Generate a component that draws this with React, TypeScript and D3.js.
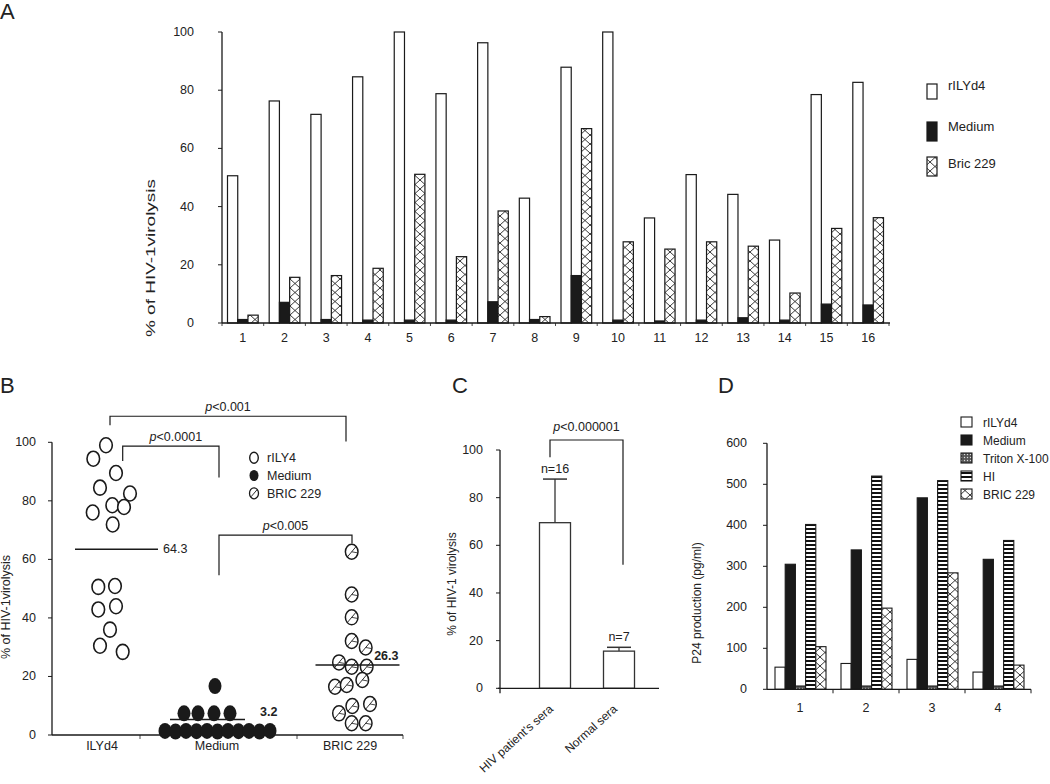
import React from 'react';
import * as d3 from 'd3';

const FONT = "'Liberation Sans', Arial, Helvetica, sans-serif";
const INK = '#1a1a1a';

// ---------- Panel A data ----------
const aDonors = ['1', '2', '3', '4', '5', '6', '7', '8', '9', '10', '11', '12', '13', '14', '15', '16'];
const aSeriesNames = ['rILYd4', 'Medium', 'Bric 229'];
const aRILYd4 = [50.6, 76.3, 71.7, 84.6, 100, 78.8, 96.3, 42.9, 87.9, 100, 36.1, 51.0, 44.2, 28.5, 78.5, 82.7];
const aMedium = [1.2, 7.1, 1.2, 1.0, 1.0, 1.0, 7.3, 1.2, 16.3, 1.0, 0.7, 1.0, 1.8, 1.0, 6.5, 6.2];
const aBric229 = [2.7, 15.7, 16.3, 18.8, 51.1, 22.8, 38.5, 2.2, 66.8, 27.9, 25.4, 27.9, 26.4, 10.3, 32.5, 36.2];
const aYTicks = [0, 20, 40, 60, 80, 100];

// ---------- Panel B data ----------
const bGroups = ['ILYd4', 'Medium', 'BRIC 229'];
const bIlyd4Values = [99, 94.4, 89.5, 84.5, 82.5, 78.5, 77.9, 76, 71.9, 50.6, 50.9, 42.9, 44, 36, 30.5, 28.4];
const bIlyd4Jitter = [4, -8.7, 14, -2, 28, 10.3, 22, -9.3, 10.7, -3.7, 13, -3.7, 14, 8, -2, 20.7];
const bMediumValues = [16.7, 7.4, 7.4, 7.4, 7.4, 1.4, 1.2, 1.4, 1.3, 1.4, 1.2, 1.4, 1.3, 1.4, 1.2, 1.4];
const bMediumJitter = [-2, -33, -19, -3, 13, -52, -41.5, -31, -20.5, -10, 0.5, 11, 21.5, 32, 42.5, 53];
const bBricValues = [62.6, 48, 40.2, 32.1, 29.9, 24.8, 23.3, 23.3, 18.8, 16.5, 17.1, 10.6, 9.9, 7.4, 4, 4];
const bBricJitter = [1.7, 1.7, 1.7, 1.7, 15.7, -11, 1.7, 16.7, 12.3, -15, -3.3, 20, 2.3, -11, 1.7, 15.7];
const bMeanValues = [63.5, 5.3, 23.9];
const bMeanLabels = ['64.3', '3.2', '26.3'];
const bLegendNames = ['rILY4', 'Medium', 'BRIC 229'];
const bYTicks = [0, 20, 40, 60, 80, 100];
const bCompLabels = ['<0.001', '<0.0001', '<0.005'];
const bCompBarValues = [108.9, 98.7, 68.3];
const bCompLeftFoot = [105.8, 93.6, 54.6];
const bCompRightFoot = [100.3, 88, 65.4];

// ---------- Panel C data ----------
const cGroups = ["HIV patient's sera", 'Normal sera'];
const cMeans = [69.5, 15.6];
const cUpperErr = [18.3, 1.6];
const cN = ['n=16', 'n=7'];
const cYTicks = [0, 20, 40, 60, 80, 100];
const cPLabel = '<0.000001';
const cBracket = { bar: 104.2, leftFoot: 97, rightFoot: 51.8 };

// ---------- Panel D data ----------
const dExperiments = ['1', '2', '3', '4'];
const dSeriesNames = ['rILYd4', 'Medium', 'Triton X-100', 'HI', 'BRIC 229'];
const dRILYd4 = [54, 63, 73, 42];
const dMedium = [305, 340, 467, 317];
const dTriton = [8, 8, 8, 8];
const dHI = [402, 520, 509, 363];
const dBric229 = [104, 198, 284, 59];
const dYTicks = [0, 100, 200, 300, 400, 500, 600];

// ---------- layout (positions / styles) ----------
const L = {
  a: { x0: 222, x1: 889, y0: 323, y1: 32 },
  b: {
    x0: 52, x1: 403, y0: 735, y1: 442.3,
    centers: [102, 217, 350], ticks: [140, 297, 403],
    meanShift: [14.5, -9.5, 7.5], meanHalf: [41.5, 37.5, 42],
  },
  c: { x0: 500, x1: 659, y0: 688.3, y1: 450 },
  d: { x0: 767, x1: 1031, y0: 689.3, y1: 443.3 },
};

const textStyle: React.CSSProperties = { fontFamily: FONT, fill: '#222' };

function PText({ x, y, label, anchor = 'middle' }: { x: number; y: number; label: string; anchor?: string }) {
  return (
    <text x={x} y={y} textAnchor={anchor as any} fontSize={12.5} style={textStyle}>
      <tspan fontStyle="italic">p</tspan>
      {label}
    </text>
  );
}

function HatchDot({ cx, cy }: { cx: number; cy: number }) {
  const rx = 6.3;
  const ry = 7.5;
  return (
    <g>
      <ellipse cx={cx} cy={cy} rx={rx} ry={ry} fill="#fff" stroke={INK} strokeWidth={1.5} />
      <line x1={cx - rx * 0.7} y1={cy + ry * 0.7} x2={cx + rx * 0.7} y2={cy - ry * 0.7} stroke={INK} strokeWidth={0.9} />
      <line x1={cx} y1={cy} x2={cx + rx * 0.85} y2={cy + 1} stroke={INK} strokeWidth={0.8} />
    </g>
  );
}

export default function App() {
  // ===== Panel A =====
  const xA = d3.scaleBand<string>().domain(aDonors).range([L.a.x0, L.a.x1]);
  const xAIn = d3.scaleBand<string>().domain(aSeriesNames).range([5.5, xA.bandwidth() - 5.5]);
  const yA = d3.scaleLinear().domain([0, 100]).range([L.a.y0, L.a.y1]);
  const aValues = [aRILYd4, aMedium, aBric229];
  const aFills = ['#fff', INK, 'url(#xhatch)'];

  // ===== Panel B =====
  const xB = d3.scaleOrdinal<string, number>().domain(bGroups).range(L.b.centers);
  const yB = d3.scaleLinear().domain([0, 100]).range([L.b.y0, L.b.y1]);
  const bMeanX = bGroups.map((g, i) => xB(g) + L.b.meanShift[i]);

  // ===== Panel C =====
  const xC = d3.scalePoint<string>().domain(cGroups).range([523, 651]).padding(0.5);
  const yC = d3.scaleLinear().domain([0, 100]).range([L.c.y0, L.c.y1]);
  const cBarW = 31;

  // ===== Panel D =====
  const xD = d3.scaleBand<string>().domain(dExperiments).range([L.d.x0, L.d.x1]);
  const xDIn = d3.scaleBand<string>().domain(dSeriesNames).range([8, xD.bandwidth() - 7]);
  const yD = d3.scaleLinear().domain([0, 600]).range([L.d.y0, L.d.y1]);
  const dValues = [dRILYd4, dMedium, dTriton, dHI, dBric229];
  const dFills = ['#fff', INK, 'url(#dots)', 'url(#hstripe)', 'url(#xhatch)'];

  return (
    <svg width={1050} height={784} style={{ position: 'absolute', left: 0, top: 0, background: '#fff' }}>
      <defs>
        <pattern id="xhatch" patternUnits="userSpaceOnUse" width={10} height={9}>
          <rect width={10} height={9} fill="#fff" />
          <path d="M0,0 L10,9 M10,0 L0,9" stroke="#222" strokeWidth={0.9} />
        </pattern>
        <pattern id="hstripe" patternUnits="userSpaceOnUse" width={4} height={4}>
          <rect width={4} height={4} fill="#fff" />
          <rect width={4} height={2} fill="#111" />
        </pattern>
        <pattern id="dots" patternUnits="userSpaceOnUse" width={3} height={3}>
          <rect width={3} height={3} fill="#555" />
          <circle cx={1.5} cy={1.5} r={0.7} fill="#ddd" />
        </pattern>
      </defs>
      <rect width={1050} height={784} fill="#fff" />

      {/* Panel letters */}
      <text x={0} y={19} fontSize={22} style={textStyle}>A</text>
      <text x={0} y={393} fontSize={22} style={textStyle}>B</text>
      <text x={452} y={393} fontSize={22} style={textStyle}>C</text>
      <text x={718} y={393} fontSize={22} style={textStyle}>D</text>

      {/* ================= Panel A ================= */}
      <g>
        {aDonors.map((d, i) =>
          aSeriesNames.map((s, k) => {
            const v = aValues[k][i];
            const x = xA(d)! + xAIn(s)!;
            return (
              <rect key={d + s} x={x} y={yA(v)} width={xAIn.bandwidth()} height={yA(0) - yA(v)}
                fill={aFills[k]} stroke={INK} strokeWidth={1.2} />
            );
          })
        )}
        <line x1={L.a.x0} x2={L.a.x0} y1={yA(100)} y2={yA(0)} stroke={INK} strokeWidth={1.3} />
        <line x1={L.a.x0} x2={L.a.x1 + 1} y1={yA(0)} y2={yA(0)} stroke={INK} strokeWidth={1.3} />
        {aYTicks.map((t) => (
          <g key={t}>
            <line x1={L.a.x0 - 4} x2={L.a.x0} y1={yA(t)} y2={yA(t)} stroke={INK} strokeWidth={1} />
            <text x={194} y={yA(t) + 4} textAnchor="end" fontSize={12.5} style={textStyle}>{t}</text>
          </g>
        ))}
        {d3.range(aDonors.length + 1).map((i) => (
          <line key={i} x1={L.a.x0 + i * xA.step()} x2={L.a.x0 + i * xA.step()} y1={yA(0)} y2={yA(0) + 3}
            stroke={INK} strokeWidth={0.8} />
        ))}
        {aDonors.map((d) => (
          <text key={d} x={xA(d)! + xA.bandwidth() / 2} y={342} textAnchor="middle" fontSize={12.5} style={textStyle}>{d}</text>
        ))}
        <text transform={`translate(155,258) rotate(-90)`} textAnchor="middle" fontSize={13}
          textLength={158} lengthAdjust="spacingAndGlyphs" style={textStyle}>
          % of HIV-1virolysis
        </text>
        {aSeriesNames.map((s, k) => (
          <g key={s}>
            <rect x={927} y={[84, 122, 157][k]} width={10} height={[15, 19, 19][k]} fill={aFills[k]} stroke={INK} strokeWidth={1.2} />
            <text x={948} y={[90, 131, 168][k]} fontSize={13} style={textStyle}>{s}</text>
          </g>
        ))}
      </g>

      {/* ================= Panel B ================= */}
      <g>
        {/* axes */}
        <line x1={L.b.x0} x2={L.b.x0} y1={yB(100)} y2={yB(0)} stroke={INK} strokeWidth={1.3} />
        <line x1={L.b.x0} x2={L.b.x1} y1={yB(0)} y2={yB(0)} stroke={INK} strokeWidth={1.3} />
        {bYTicks.map((t) => (
          <g key={t}>
            <line x1={L.b.x0 - 4} x2={L.b.x0} y1={yB(t)} y2={yB(t)} stroke={INK} strokeWidth={1} />
            <text x={36} y={yB(t) + 4} textAnchor="end" fontSize={12.5} style={textStyle}>{t}</text>
          </g>
        ))}
        {L.b.ticks.map((t) => (
          <line key={t} x1={t} x2={t} y1={yB(0)} y2={yB(0) + 4} stroke={INK} strokeWidth={0.8} />
        ))}
        {bGroups.map((g) => (
          <text key={g} x={xB(g)} y={750} textAnchor="middle" fontSize={12.5} style={textStyle}>{g}</text>
        ))}
        <text transform={`translate(10,607) rotate(-90)`} textAnchor="middle" fontSize={12.5} style={textStyle}>
          % of HIV-1virolysis
        </text>

        {/* dots */}
        {bIlyd4Values.map((v, i) => (
          <ellipse key={'w' + i} cx={xB(bGroups[0]) + bIlyd4Jitter[i]} cy={yB(v)} rx={6.3} ry={7.5}
            fill="#fff" stroke={INK} strokeWidth={1.6} />
        ))}
        {bMediumValues.map((v, i) => (
          <ellipse key={'b' + i} cx={xB(bGroups[1]) + bMediumJitter[i]} cy={yB(v)} rx={6.5} ry={8} fill={INK} />
        ))}
        {bBricValues.map((v, i) => (
          <HatchDot key={'h' + i} cx={xB(bGroups[2]) + bBricJitter[i]} cy={yB(v)} />
        ))}

        {/* mean lines */}
        {bMeanValues.map((m, i) => (
          <line key={'m' + i} x1={bMeanX[i] - L.b.meanHalf[i]} x2={bMeanX[i] + L.b.meanHalf[i]} y1={yB(m)} y2={yB(m)}
            stroke={INK} strokeWidth={1.5} />
        ))}
        <text x={bMeanX[0] + L.b.meanHalf[0] + 5} y={yB(bMeanValues[0]) + 4} fontSize={12.5} style={textStyle}>{bMeanLabels[0]}</text>
        <text x={bMeanX[1] + L.b.meanHalf[1] + 15} y={yB(bMeanValues[1]) - 3} fontSize={12.5} fontWeight="bold" style={textStyle}>{bMeanLabels[1]}</text>
        <text x={bMeanX[2] + L.b.meanHalf[2] - 1} y={yB(bMeanValues[2]) - 5} textAnchor="end" fontSize={12.5} fontWeight="bold" style={textStyle}>{bMeanLabels[2]}</text>

        {/* comparisons */}
        {[
          [xB(bGroups[0]) + 8, xB(bGroups[2]) - 4],
          [xB(bGroups[0]) + 20.7, xB(bGroups[1]) + 2],
          [xB(bGroups[1]) + 2, xB(bGroups[2]) + 2],
        ].map(([xl, xr], i) => (
          <g key={'c' + i}>
            <path
              d={`M${xl},${yB(bCompLeftFoot[i])} V${yB(bCompBarValues[i])} H${xr} V${yB(bCompRightFoot[i])}`}
              fill="none" stroke={INK} strokeWidth={1.2} />
            <PText x={(xl + xr) / 2 + (i === 1 ? 5 : 0)} y={yB(bCompBarValues[i]) - 5} label={bCompLabels[i]} />
          </g>
        ))}

        {/* legend */}
        {bLegendNames.map((n, k) => {
          const cy = 457.7 + k * 17.8;
          return (
            <g key={n}>
              {k === 0 && <ellipse cx={254} cy={cy} rx={4.3} ry={5.5} fill="#fff" stroke={INK} strokeWidth={1.4} />}
              {k === 1 && <ellipse cx={254} cy={cy} rx={4.5} ry={5.5} fill={INK} />}
              {k === 2 && (
                <g>
                  <ellipse cx={254} cy={cy} rx={4.5} ry={5.5} fill="#fff" stroke={INK} strokeWidth={1.3} />
                  <line x1={251} y1={cy + 3.5} x2={257} y2={cy - 3.5} stroke={INK} strokeWidth={0.9} />
                </g>
              )}
              <text x={267} y={cy + 4.5} fontSize={12.5} style={textStyle}>{n}</text>
            </g>
          );
        })}
      </g>

      {/* ================= Panel C ================= */}
      <g>
        {cGroups.map((g, i) => {
          const cx = xC(g)!;
          return (
            <g key={g}>
              <line x1={cx} x2={cx} y1={yC(cMeans[i])} y2={yC(cMeans[i] + cUpperErr[i])} stroke="#333" strokeWidth={1.3} />
              <line x1={cx - 12} x2={cx + 12} y1={yC(cMeans[i] + cUpperErr[i])} y2={yC(cMeans[i] + cUpperErr[i])} stroke="#333" strokeWidth={1.5} />
              <rect x={cx - cBarW / 2} y={yC(cMeans[i])} width={cBarW} height={yC(0) - yC(cMeans[i])}
                fill="#fff" stroke="#333" strokeWidth={1.3} />
              <text x={cx} y={yC(cMeans[i] + cUpperErr[i]) - 6} textAnchor="middle" fontSize={12.5} style={textStyle}>{cN[i]}</text>
              <text transform={`translate(${cx - 1},710) rotate(-42)`} textAnchor="end" fontSize={12} style={textStyle}>{g}</text>
            </g>
          );
        })}
        <line x1={L.c.x0} x2={L.c.x0} y1={yC(100)} y2={yC(0) + 5} stroke={INK} strokeWidth={1.3} />
        <line x1={L.c.x0 - 2} x2={L.c.x1} y1={yC(0)} y2={yC(0)} stroke={INK} strokeWidth={1.3} />
        {cYTicks.map((t) => (
          <g key={t}>
            <line x1={L.c.x0 - 4} x2={L.c.x0} y1={yC(t)} y2={yC(t)} stroke={INK} strokeWidth={1} />
            <text x={483} y={yC(t) + 4} textAnchor="end" fontSize={12.5} style={textStyle}>{t}</text>
          </g>
        ))}
        <text transform={`translate(456,584) rotate(-90)`} textAnchor="middle" fontSize={12} style={textStyle}>
          % of HIV-1 virolysis
        </text>
        {(() => {
          const xl = xC(cGroups[0])! - 5;
          const xr = xC(cGroups[1])! + 4;
          return (
            <g>
              <path d={`M${xl},${yC(cBracket.leftFoot)} V${yC(cBracket.bar)} H${xr} V${yC(cBracket.rightFoot)}`}
                fill="none" stroke={INK} strokeWidth={1.2} />
              <PText x={(xl + xr) / 2} y={yC(cBracket.bar) - 9} label={cPLabel} />
            </g>
          );
        })()}
      </g>

      {/* ================= Panel D ================= */}
      <g>
        {dExperiments.map((e, i) =>
          dSeriesNames.map((s, k) => {
            const v = dValues[k][i];
            return (
              <rect key={e + s} x={xD(e)! + xDIn(s)!} y={yD(v)} width={xDIn.bandwidth()} height={yD(0) - yD(v)}
                fill={dFills[k]} stroke={INK} strokeWidth={1.1} />
            );
          })
        )}
        <line x1={L.d.x0} x2={L.d.x0} y1={yD(600)} y2={yD(0)} stroke={INK} strokeWidth={1.3} />
        <line x1={L.d.x0} x2={L.d.x1} y1={yD(0)} y2={yD(0)} stroke={INK} strokeWidth={1.3} />
        {dYTicks.map((t) => (
          <g key={t}>
            <line x1={L.d.x0 - 4} x2={L.d.x0} y1={yD(t)} y2={yD(t)} stroke={INK} strokeWidth={1} />
            <text x={747} y={yD(t) + 4} textAnchor="end" fontSize={12.5} style={textStyle}>{t}</text>
          </g>
        ))}
        {d3.range(1, dExperiments.length + 1).map((i) => (
          <line key={i} x1={L.d.x0 + i * xD.step()} x2={L.d.x0 + i * xD.step()} y1={yD(0)} y2={yD(0) + 4}
            stroke={INK} strokeWidth={1} />
        ))}
        {dExperiments.map((e) => (
          <text key={e} x={xD(e)! + xD.bandwidth() / 2} y={712} textAnchor="middle" fontSize={12.5} style={textStyle}>{e}</text>
        ))}
        <text transform={`translate(701,603) rotate(-90)`} textAnchor="middle" fontSize={12} style={textStyle}>
          P24 production (pg/ml)
        </text>
        {dSeriesNames.map((s, k) => {
          const y = 427 + k * 18;
          return (
            <g key={s}>
              <rect x={961} y={y - 10} width={11} height={10} fill={dFills[k]} stroke={INK} strokeWidth={1.1} />
              <text x={983} y={y} fontSize={12} style={textStyle}>{s}</text>
            </g>
          );
        })}
      </g>
    </svg>
  );
}
